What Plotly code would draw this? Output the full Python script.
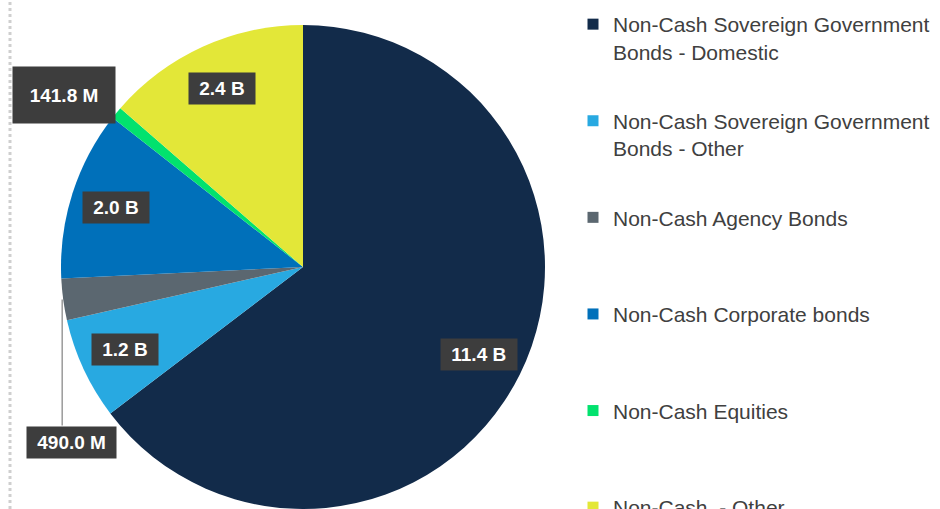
import math
import plotly.graph_objects as go

# ---------------- data ----------------
categories = [
    "Non-Cash Sovereign Government Bonds - Domestic",
    "Non-Cash Sovereign Government Bonds - Other",
    "Non-Cash Agency Bonds",
    "Non-Cash Corporate bonds",
    "Non-Cash Equities",
    "Non-Cash  - Other",
]
legend_labels = [
    "Non-Cash Sovereign Government<br>Bonds - Domestic",
    "Non-Cash Sovereign Government<br>Bonds - Other",
    "Non-Cash Agency Bonds",
    "Non-Cash Corporate bonds",
    "Non-Cash Equities",
    "Non-Cash \u00a0- Other",
]
values = [11.4e9, 1.2e9, 490.0e6, 2.0e9, 141.8e6, 2.4e9]
value_labels = ["11.4 B", "1.2 B", "490.0 M", "2.0 B", "141.8 M", "2.4 B"]
colors = ["#122B4A", "#28A9E1", "#5B6770", "#0070BA", "#02E26E", "#E3E738"]

# ---------------- layout constants (pixels) ----------------
W, H = 940, 509
CX, CY, R = 303, 267, 242          # pie centre / radius in pixels
LABEL_R = 0.81                     # inside labels at this fraction of radius
# outside labels: offset of label-box centre from slice edge point
outside = {2: (8, 143), 4: (-52, -18)}
box_size = {4: (92, 46)}


def px(x):
    return x / W


def py(y):
    return 1 - y / H


fig = go.Figure()

fig.add_trace(go.Pie(
    labels=categories,
    values=values,
    sort=False,
    direction="clockwise",
    rotation=0,
    marker=dict(colors=colors, line=dict(width=0)),
    textinfo="none",
    hoverinfo="label+value",
    showlegend=False,
    domain=dict(x=[px(CX - R), px(CX + R)], y=[0, py(CY - R)]),
))

# legend through dummy traces (one group each, fixed spacing)
for name, col in zip(legend_labels, colors):
    txt = name if "<br>" in name else name + "<br>\u00a0"
    fig.add_trace(go.Scatter(
        x=[None], y=[None], mode="markers",
        marker=dict(symbol="square", size=11, color=col),
        name=txt, legendgroup=name, showlegend=True, hoverinfo="skip",
    ))

# labels computed from slice angles
total = sum(values)
cum = 0.0
annotations = []
shapes = []
for i, (v, lab) in enumerate(zip(values, value_labels)):
    a0 = cum / total * 360
    cum += v
    a1 = cum / total * 360
    mid = math.radians((a0 + a1) / 2)
    dx, dy = math.sin(mid), -math.cos(mid)
    if i in outside:
        ex, ey = CX + R * dx, CY + R * dy
        ox, oy = outside[i]
        bx, by = ex + ox, ey + oy
        if i == 2:
            shapes.append(dict(type="line", xref="paper", yref="paper",
                               x0=px(ex - 1), y0=py(ey), x1=px(ex - 1), y1=py(by - 17),
                               line=dict(color="#9A9A9A", width=1.5)))
    else:
        bx, by = CX + LABEL_R * R * dx, CY + LABEL_R * R * dy
    ann = dict(
        x=px(bx), y=py(by), xref="paper", yref="paper",
        text="\u00a0" + lab + "\u00a0", showarrow=False,
        font=dict(family="Liberation Sans, Arial", size=19, color="white", weight="bold"),
        bgcolor="#3D3D3D", borderpad=5, xanchor="center", yanchor="middle",
    )
    if i in box_size:
        ann["width"], ann["height"] = box_size[i]
    annotations.append(ann)

# dotted divider on the left
shapes.append(dict(type="line", xref="paper", yref="paper",
                   x0=px(10), x1=px(10), y0=0, y1=1,
                   line=dict(color="#CFCFCF", width=3, dash="dot")))

fig.update_layout(
    width=W, height=H,
    margin=dict(l=0, r=0, t=0, b=0, autoexpand=False),
    paper_bgcolor="white", plot_bgcolor="white",
    xaxis=dict(visible=False), yaxis=dict(visible=False),
    font=dict(family="Liberation Sans, Arial", color="#404040"),
    legend=dict(
        x=px(573), y=py(4), xanchor="left", yanchor="top",
        font=dict(size=21, color="#404040", family="Liberation Sans, Arial"),
        tracegroupgap=39, valign="top", traceorder="grouped",
        bgcolor="rgba(0,0,0,0)",
    ),
    annotations=annotations,
    shapes=shapes,
)

fig.write_html(
    "out.html",
    config={"displayModeBar": False},
    post_script=(
        "document.body.style.margin='0';"
        "document.body.style.overflow='hidden';"
        "var s=document.createElement('style');"
        "s.textContent='.legend .scrollbar{display:none !important;}';"
        "document.head.appendChild(s);"
    ),
)
